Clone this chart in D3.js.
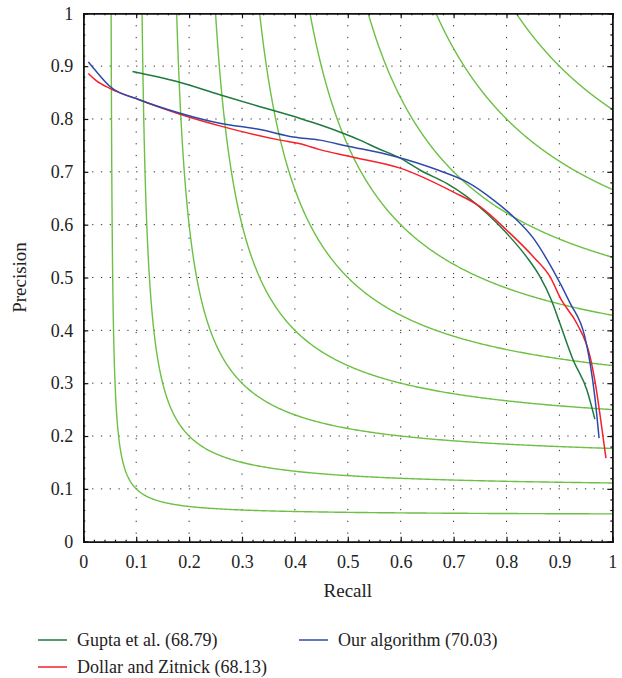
<!DOCTYPE html>
<html>
<head>
	<script type="text/javascript" src="https://cdn.jsdelivr.net/npm/d3@7"></script>
	<style>
		body { margin: 0; background: #fff; }
		text { font-family: "Liberation Serif", "Times New Roman", serif; fill: #222; }
	</style>
</head>
<body>
	<script type="text/javascript">

		// tick values
		var ticks = [0, 0.1, 0.2, 0.3, 0.4, 0.5, 0.6, 0.7, 0.8, 0.9, 1];
		var tickLabels = ['0', '0.1', '0.2', '0.3', '0.4', '0.5', '0.6', '0.7', '0.8', '0.9', '1'];

		// iso-F contour levels
		var fLevels = [0.1, 0.2, 0.3, 0.4, 0.5, 0.6, 0.7, 0.8, 0.9];

		// series
		var guptaRecall = [0.093, 0.177, 0.258, 0.328, 0.410, 0.447, 0.491, 0.523, 0.555, 0.599, 0.637, 0.687, 0.725, 0.763, 0.800, 0.838, 0.863, 0.885, 0.901, 0.926, 0.952, 0.967];
		var guptaPrecision = [0.890, 0.871, 0.846, 0.825, 0.801, 0.789, 0.773, 0.760, 0.745, 0.726, 0.703, 0.678, 0.653, 0.621, 0.584, 0.539, 0.502, 0.457, 0.413, 0.344, 0.287, 0.232];

		var dollarRecall = [0.0095, 0.025, 0.05, 0.107, 0.183, 0.258, 0.372, 0.410, 0.447, 0.504, 0.599, 0.699, 0.750, 0.800, 0.851, 0.882, 0.904, 0.933, 0.958, 0.970, 0.979, 0.988];
		var dollarPrecision = [0.886, 0.872, 0.858, 0.836, 0.809, 0.787, 0.760, 0.753, 0.742, 0.729, 0.707, 0.662, 0.634, 0.590, 0.539, 0.502, 0.457, 0.413, 0.350, 0.287, 0.224, 0.158];

		var oursRecall = [0.0095, 0.022, 0.050, 0.107, 0.183, 0.258, 0.334, 0.397, 0.447, 0.498, 0.586, 0.674, 0.725, 0.775, 0.813, 0.851, 0.888, 0.920, 0.948, 0.958, 0.967, 0.975];
		var oursPrecision = [0.908, 0.893, 0.862, 0.836, 0.811, 0.792, 0.780, 0.766, 0.760, 0.749, 0.730, 0.702, 0.681, 0.647, 0.615, 0.574, 0.514, 0.452, 0.388, 0.338, 0.274, 0.196];

		var seriesNames = ['Gupta et al. (68.79)', 'Dollar and Zitnick (68.13)', 'Our algorithm (70.03)'];
		var seriesColors = ['#1f7a3e', '#f5212a', '#2d4aa8'];

		var series = [
			{recall: guptaRecall, precision: guptaPrecision},
			{recall: dollarRecall, precision: dollarPrecision},
			{recall: oursRecall, precision: oursPrecision}
		];

		// canvas params
		var margin = {top: 13.3, left: 83.3, right: 9.7, bottom: 136.3};
		var width = 622 - margin.left - margin.right;
		var height = 678 - margin.top - margin.bottom;

		var xScale = d3.scaleLinear().domain([0, 1]).range([0, width]);
		var yScale = d3.scaleLinear().domain([0, 1]).range([height, 0]);

		var svg = d3.select('body')
			.append('svg')
			.attr('width', 622)
			.attr('height', 678);

		var g = svg.append('g')
			.attr('transform', 'translate(' + margin.left + ',' + margin.top + ')');

		g.append('clipPath')
			.attr('id', 'plot-clip')
			.append('rect')
			.attr('width', width)
			.attr('height', height);

		// dotted grid
		g.selectAll('.hgrid')
			.data(ticks.slice(1, -1))
			.enter()
			.append('line')
			.attr('x1', 0)
			.attr('x2', width)
			.attr('y1', function(d) { return yScale(d); })
			.attr('y2', function(d) { return yScale(d); })
			.attr('stroke', '#333')
			.attr('stroke-width', 1)
			.attr('stroke-dasharray', '1.3,7.5');

		g.selectAll('.vgrid')
			.data(ticks.slice(1, -1))
			.enter()
			.append('line')
			.attr('y1', 0)
			.attr('y2', height)
			.attr('x1', function(d) { return xScale(d); })
			.attr('x2', function(d) { return xScale(d); })
			.attr('stroke', '#333')
			.attr('stroke-width', 1)
			.attr('stroke-dasharray', '1.3,10.5');

		// iso-F curves
		var isoLine = d3.line()
			.x(function(d) { return xScale(d[0]); })
			.y(function(d) { return yScale(d[1]); });

		var curves = g.append('g').attr('clip-path', 'url(#plot-clip)');

		fLevels.forEach(function(f) {
			var pts = [];
			var r0 = f / (2 - f) * 0.98;
			for (var i = 0; i <= 400; i++) {
				var r = r0 + (1 - r0) * Math.pow(i / 400, 1.6);
				if (2 * r - f <= 0) continue;
				var p = f * r / (2 * r - f);
				if (p > 1.05) p = 1.05;
				pts.push([r, p]);
			}
			curves.append('path')
				.attr('d', isoLine(pts))
				.attr('fill', 'none')
				.attr('stroke', '#6cc043')
				.attr('stroke-width', 1.4);
		});

		// series lines
		var line = d3.line()
			.x(function(d) { return xScale(d.r); })
			.y(function(d) { return yScale(d.p); })
			.curve(d3.curveMonotoneX);

		series.forEach(function(s, i) {
			var pts = s.recall.map(function(r, j) { return {r: r, p: s.precision[j]}; });
			curves.append('path')
				.attr('d', line(pts))
				.attr('fill', 'none')
				.attr('stroke', seriesColors[i])
				.attr('stroke-width', 1.5);
		});

		// axes (ticks inside)
		var fmt = function(d) { return tickLabels[ticks.indexOf(d)]; };

		g.append('g')
			.attr('transform', 'translate(0,' + height + ')')
			.call(d3.axisBottom(xScale).tickValues(ticks).tickSize(-5).tickPadding(14).tickFormat(fmt));
		g.append('g')
			.call(d3.axisLeft(yScale).tickValues(ticks).tickSize(-5).tickPadding(10).tickFormat(fmt));
		g.append('g')
			.call(d3.axisTop(xScale).tickValues(ticks).tickSize(-5).tickFormat(''));
		g.append('g')
			.attr('transform', 'translate(' + width + ',0)')
			.call(d3.axisRight(yScale).tickValues(ticks).tickSize(-5).tickFormat(''));

		// minor ticks
		var minor = d3.range(0, 1.0001, 0.02);
		g.append('g').attr('transform', 'translate(0,' + height + ')')
			.call(d3.axisBottom(xScale).tickValues(minor).tickSize(-2).tickFormat(''));
		g.append('g')
			.call(d3.axisTop(xScale).tickValues(minor).tickSize(-2).tickFormat(''));
		g.append('g')
			.call(d3.axisLeft(yScale).tickValues(minor).tickSize(-2).tickFormat(''));
		g.append('g').attr('transform', 'translate(' + width + ',0)')
			.call(d3.axisRight(yScale).tickValues(minor).tickSize(-2).tickFormat(''));

		g.selectAll('.domain').attr('stroke', '#111').attr('stroke-width', 1.5);
		g.selectAll('.tick line').attr('stroke', '#111').attr('stroke-width', 1.2);
		g.selectAll('.tick text')
			.style('font-family', '"Liberation Serif", "Times New Roman", serif')
			.style('font-size', '18px')
			.attr('fill', '#222');

		// axis titles
		svg.append('text')
			.attr('x', margin.left + width / 2)
			.attr('y', 597)
			.attr('text-anchor', 'middle')
			.style('font-size', '19px')
			.text('Recall');

		svg.append('text')
			.attr('transform', 'translate(26,' + (margin.top + height / 2) + ') rotate(-90)')
			.attr('text-anchor', 'middle')
			.style('font-size', '19px')
			.text('Precision');

		// legend
		var legendPos = [{x: 38, y: 640}, {x: 38, y: 667}, {x: 299, y: 640}];
		series.forEach(function(s, i) {
			var lg = svg.append('g')
				.attr('transform', 'translate(' + legendPos[i].x + ',' + legendPos[i].y + ')');
			lg.append('line')
				.attr('x1', 0)
				.attr('x2', 29)
				.attr('stroke', seriesColors[i])
				.attr('stroke-width', 1.5);
			lg.append('text')
				.attr('x', 39)
				.attr('dy', '0.33em')
				.style('font-size', '18px')
				.text(seriesNames[i]);
		});

	</script>

</body>
</html>
